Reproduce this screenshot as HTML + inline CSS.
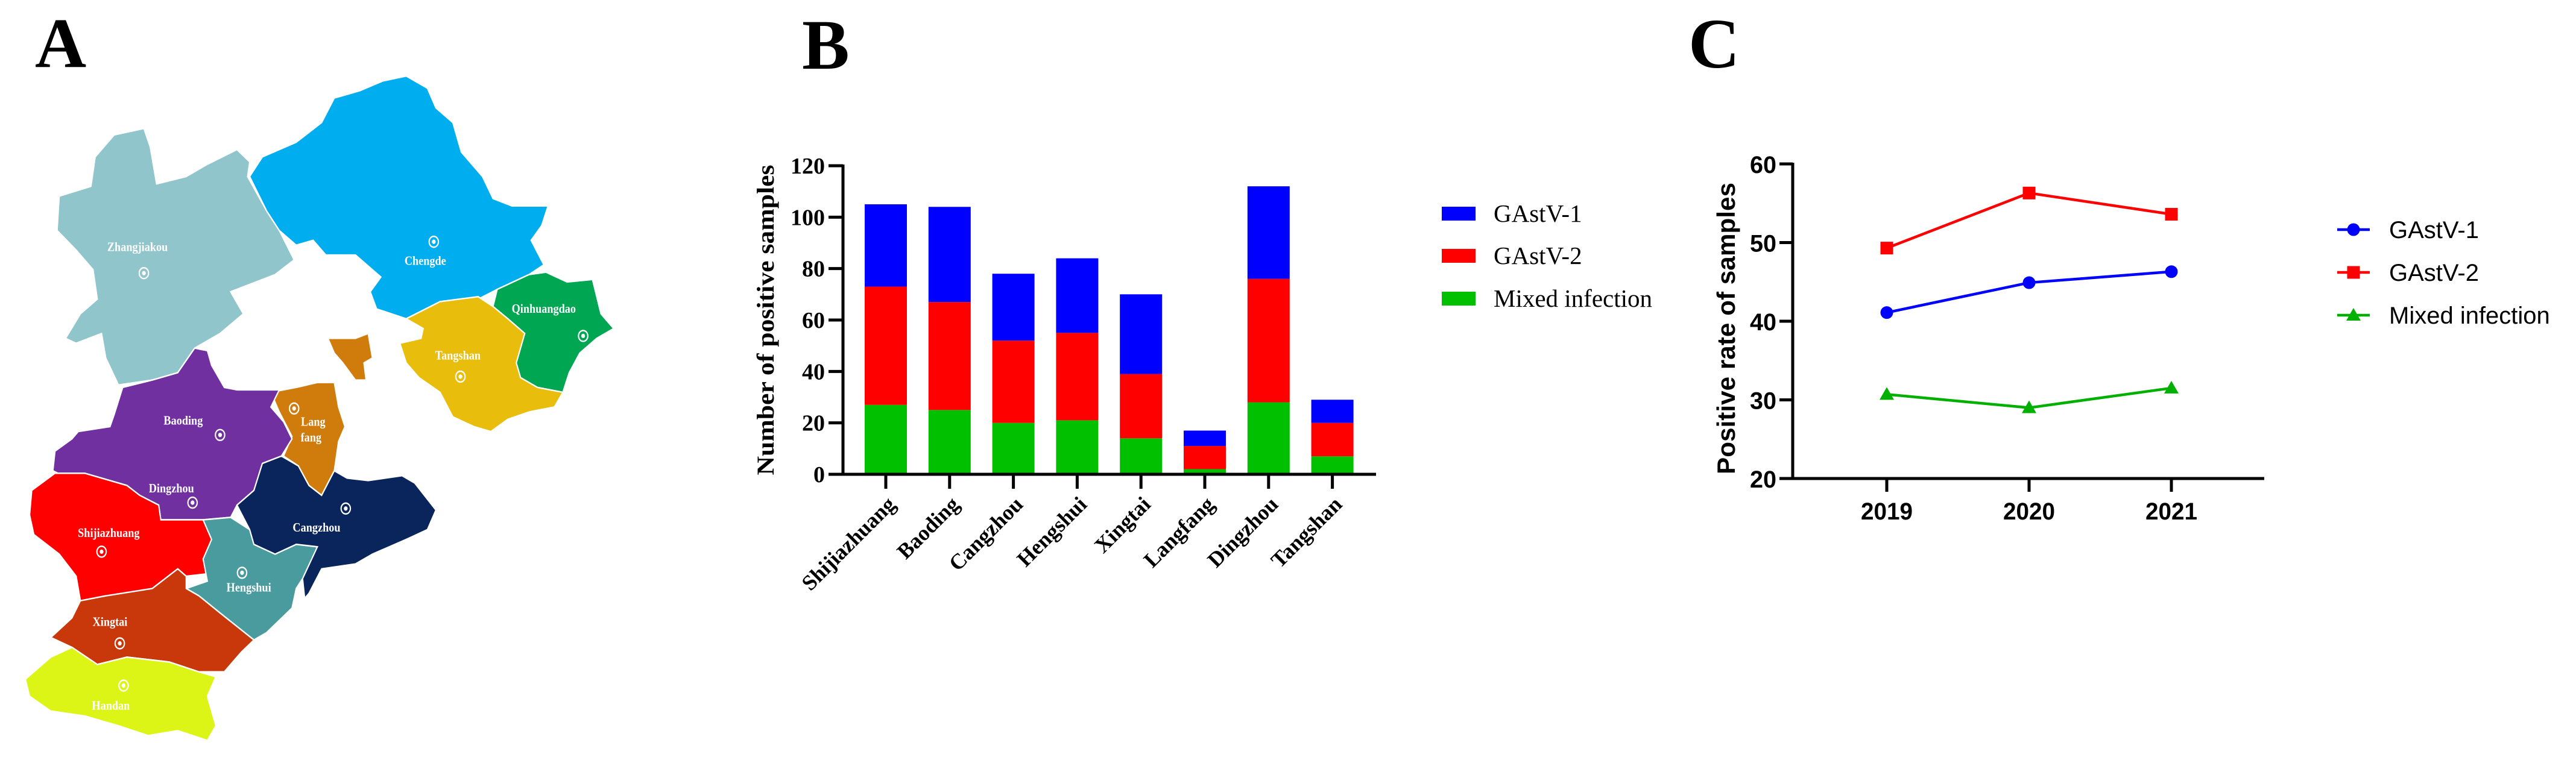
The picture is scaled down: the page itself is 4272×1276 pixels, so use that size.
<!DOCTYPE html>
<html><head><meta charset="utf-8"><style>
html,body{margin:0;padding:0;background:#fff;}
svg{display:block;}
</style></head><body>
<svg id="fig" width="4272" height="1276" viewBox="0 0 4272 1276" xmlns="http://www.w3.org/2000/svg">
<rect width="4272" height="1276" fill="#fff"/>
<text x="58" y="111" font-family="Liberation Serif, serif" font-weight="bold" font-size="118">A</text>
<text x="1330" y="114" font-family="Liberation Serif, serif" font-weight="bold" font-size="118">B</text>
<text x="2800" y="112" font-family="Liberation Serif, serif" font-weight="bold" font-size="118">C</text>

<g id="map" transform="scale(0.7018,0.8137)" stroke="#fff" stroke-width="3">
<polygon fill="#8fc5cb" points="140,400 215,380 225,320 270,275 340,262 355,300 370,375 440,360 490,335 560,305 590,330 585,360 630,430 660,470 695,530 650,560 590,580 545,595 575,640 520,680 460,710 420,760 360,775 280,785 250,730 240,680 180,700 155,690 190,640 230,610 220,550 180,510 135,470"/>
<polygon fill="#00aeef" points="590,360 620,320 700,290 760,250 790,200 850,185 905,165 960,155 1010,180 1030,220 1070,250 1090,310 1140,360 1165,405 1210,420 1295,420 1280,460 1255,490 1285,540 1250,560 1175,590 1130,610 1040,615 960,650 890,630 875,595 900,565 840,520 770,520 740,490 700,500 660,470 630,430"/>
<polygon fill="#00a651" points="1175,590 1250,560 1290,555 1340,575 1400,570 1420,640 1450,670 1410,690 1370,720 1345,760 1330,800 1270,790 1230,770 1220,740 1240,680 1200,650 1165,625"/>
<polygon fill="#e8bd0c" points="960,650 1040,615 1130,605 1165,625 1200,650 1240,680 1220,740 1230,770 1270,790 1330,800 1310,830 1250,840 1200,855 1160,880 1120,870 1070,850 1040,800 990,770 960,740 945,700 995,690 1000,670"/>
<polygon fill="#d07c0c" points="775,690 840,690 870,680 880,730 860,740 865,775 840,775 810,740 790,720"/>
<polygon fill="#d07c0c" points="640,800 700,790 750,780 790,780 800,830 815,870 800,900 790,960 760,1010 730,990 705,950 670,930 690,890 660,840"/>
<polygon fill="#7030a0" points="290,790 360,775 420,760 460,710 490,715 500,745 530,790 560,795 660,795 640,830 670,860 690,895 665,930 620,945 600,1000 560,1030 545,1055 480,1060 380,1060 375,1030 330,1010 300,990 200,965 160,975 125,960 130,920 170,895 185,880 260,870 270,845"/>
<polygon fill="#ff0000" points="75,1000 130,965 200,965 300,990 330,1010 375,1030 380,1060 480,1060 500,1100 480,1140 490,1170 440,1175 420,1160 360,1200 290,1215 250,1215 190,1225 180,1175 140,1130 80,1090 70,1050"/>
<polygon fill="#4a9b9e" points="480,1060 545,1055 590,1080 600,1110 650,1130 700,1110 750,1115 730,1160 700,1200 690,1240 630,1290 600,1305 520,1250 470,1215 440,1200 490,1185 480,1140 500,1100"/>
<polygon fill="#0a245c" points="560,1030 600,1000 620,945 665,930 705,950 730,990 760,1010 790,960 820,975 870,980 950,970 980,985 1030,1040 1010,1080 960,1100 880,1130 840,1150 760,1160 730,1210 720,1220 715,1180 750,1115 700,1110 650,1130 600,1110 590,1080"/>
<polygon fill="#c8380a" points="190,1225 250,1215 360,1200 420,1160 440,1175 440,1200 470,1215 520,1250 600,1305 570,1330 530,1370 470,1370 400,1350 300,1340 230,1355 170,1320 120,1300 170,1260"/>
<polygon fill="#dcf517" points="60,1385 120,1340 170,1320 230,1355 300,1340 400,1350 470,1370 510,1380 490,1420 510,1480 490,1510 420,1490 350,1500 280,1480 200,1460 120,1450 70,1420"/>
<g stroke="none" fill="#fff" font-family="Liberation Serif, serif" font-weight="bold" font-size="26" text-anchor="middle">
<text x="325" y="512">Zhangjiakou</text>
<text x="1005" y="540">Chengde</text>
<text x="1285" y="638">Qinhuangdao</text>
<text x="1082" y="733">Tangshan</text>
<text x="740" y="868">Lang</text>
<text x="735" y="900">fang</text>
<text x="433" y="866">Baoding</text>
<text x="405" y="1004">Dingzhou</text>
<text x="257" y="1095">Shijiazhuang</text>
<text x="748" y="1084">Cangzhou</text>
<text x="588" y="1206">Hengshui</text>
<text x="260" y="1276">Xingtai</text>
<text x="262" y="1447">Handan</text>
</g>
<g id="cities" stroke="none"></g>
</g>

<g id="chartB"></g>
<g id="chartC"></g>
</svg>
<script>
const NS='http://www.w3.org/2000/svg';
function mk(parent,tag,attrs){const e=document.createElementNS(NS,tag);for(const k in attrs)e.setAttribute(k,attrs[k]);parent.appendChild(e);return e;}

// map city markers
const cityPts=[[340,557],[1025,493],[1378,685],[1088,768],[695,833],[520,887],[455,1025],[240,1125],[817,1037],[572,1168],[283,1312],[292,1398]];
const cities=document.getElementById('cities');
cityPts.forEach(p=>{
  const c=mk(cities,'circle',{cx:p[0],cy:p[1],r:11,fill:'none',stroke:'#fff','stroke-width':3});
  
  
  const d=mk(cities,'circle',{cx:p[0],cy:p[1],r:4.5,fill:'#fff'});
  
  
});

// ---------- Panel B data ----------
const bCategories=['Shijiazhuang','Baoding','Cangzhou','Hengshui','Xingtai','Langfang','Dingzhou','Tangshan'];
const bMixed=[27,25,20,21,14,2,28,7];
const bGAstV2=[46,42,32,34,25,9,48,13];
const bGAstV1=[32,37,26,29,31,6,36,9];
const bTicks=[0,20,40,60,80,100,120];
const bSeriesNames=['GAstV-1','GAstV-2','Mixed infection'];

(function(){
  const g=document.getElementById('chartB');
  const x0=1398, y0=787, yTop=275, yMax=120, xEnd=2282;
  const first=1469, step=105.8, bw=70;
  const Y=v=>y0-(v/yMax)*(y0-yTop);
  const X=i=>first+i*step;
  bCategories.forEach((c,i)=>{
    const stacks=[[bMixed[i],'#00c000','bar-mixed-'+c.toLowerCase()],[bGAstV2[i],'#ff0000','bar-gastv2-'+c.toLowerCase()],[bGAstV1[i],'#0000ff','bar-gastv1-'+c.toLowerCase()]];
    let base=0;
    stacks.forEach(s=>{
      const r=mk(g,'rect',{x:X(i)-bw/2,y:Y(base+s[0]),width:bw,height:Y(base)-Y(base+s[0]),fill:s[1]});
      
      
      base+=s[0];
    });
    const t=mk(g,'line',{x1:X(i),y1:y0,x2:X(i),y2:y0+24,stroke:'#000','stroke-width':5});
    
    
    const lx=X(i)+18, ly=y0+52;
    const l=mk(g,'text',{x:lx,y:ly,'text-anchor':'end','font-family':'Liberation Serif, serif','font-weight':'bold','font-size':36,transform:`rotate(-45 ${lx} ${ly})`});
    l.textContent=c;
    
    
  });
  bTicks.forEach(v=>{
    const t=mk(g,'line',{x1:x0-24,y1:Y(v),x2:x0,y2:Y(v),stroke:'#000','stroke-width':5});
    
    
    const l=mk(g,'text',{x:x0-30,y:Y(v)+13,'text-anchor':'end','font-family':'Liberation Serif, serif','font-weight':'bold','font-size':38});
    l.textContent=v;
    
    
  });
  const ya=mk(g,'line',{x1:x0,y1:yTop-2,x2:x0,y2:y0+2.5,stroke:'#000','stroke-width':5});
  
  
  const xa=mk(g,'line',{x1:x0-2.5,y1:y0,x2:xEnd,y2:y0,stroke:'#000','stroke-width':5});
  
  
  const yt=mk(g,'text',{x:0,y:0,'text-anchor':'middle','font-family':'Liberation Serif, serif','font-weight':'bold','font-size':40,textLength:515,lengthAdjust:'spacingAndGlyphs',transform:`translate(1283 ${(yTop+y0)/2}) rotate(-90)`});
  yt.textContent='Number of positive samples';
  
  
  const cols=['#0000ff','#ff0000','#00c000'];
  const ly=[354,424,495];
  bSeriesNames.forEach((n,i)=>{
    const r=mk(g,'rect',{x:2391,y:ly[i]-11,width:56,height:23,fill:cols[i]});
    
    
    const t=mk(g,'text',{x:2477,y:ly[i]+14,'font-family':'Liberation Serif, serif','font-size':41});
    t.textContent=n;
    
    
  });
})();

// ---------- Panel C data ----------
const cYears=['2019','2020','2021'];
const cGAstV1=[41.1,44.9,46.3];
const cGAstV2=[49.3,56.3,53.6];
const cMixed=[30.7,29.0,31.5];
const cTicks=[20,30,40,50,60];

(function(){
  const g=document.getElementById('chartC');
  const x0=2973, y0=794, yTop=272, xEnd=3755, vMin=20, vMax=60;
  const first=3129, step=236;
  const Y=v=>y0-(v-vMin)/(vMax-vMin)*(y0-yTop);
  const X=i=>first+i*step;
  cTicks.forEach(v=>{
    const t=mk(g,'line',{x1:x0-22,y1:Y(v),x2:x0,y2:Y(v),stroke:'#000','stroke-width':5});
    
    
    const l=mk(g,'text',{x:x0-27,y:Y(v)+15,'text-anchor':'end','font-family':'Liberation Sans, sans-serif','font-weight':'bold','font-size':40,textLength:44,lengthAdjust:'spacingAndGlyphs'});
    l.textContent=v;
    
    
  });
  cYears.forEach((yr,i)=>{
    const t=mk(g,'line',{x1:X(i),y1:y0,x2:X(i),y2:y0+22,stroke:'#000','stroke-width':5});
    
    
    const l=mk(g,'text',{x:X(i),y:y0+68,'text-anchor':'middle','font-family':'Liberation Sans, sans-serif','font-weight':'bold','font-size':40,textLength:86,lengthAdjust:'spacingAndGlyphs'});
    l.textContent=yr;
    
    
  });
  const ya=mk(g,'line',{x1:x0,y1:yTop-2,x2:x0,y2:y0+2.5,stroke:'#000','stroke-width':5});
  
  
  const xa=mk(g,'line',{x1:x0-2.5,y1:y0,x2:xEnd,y2:y0,stroke:'#000','stroke-width':5});
  
  
  const yt=mk(g,'text',{x:0,y:0,'text-anchor':'middle','font-family':'Liberation Sans, sans-serif','font-weight':'bold','font-size':42,textLength:484,lengthAdjust:'spacingAndGlyphs',transform:`translate(2877 ${(yTop+y0)/2+12}) rotate(-90)`});
  yt.textContent='Positive rate of samples';
  
  

  function marker(parent,type,cx,cy,col,name){
    let m;
    if(type==='circle') m=mk(parent,'circle',{cx:cx,cy:cy,r:10.5,fill:col});
    else if(type==='square') m=mk(parent,'rect',{x:cx-10.5,y:cy-10.5,width:21,height:21,fill:col});
    else m=mk(parent,'polygon',{points:`${cx},${cy-12} ${cx-12},${cy+9} ${cx+12},${cy+9}`,fill:col});
    
    
  }
  const series=[['GAstV-1',cGAstV1,'#0000ff','circle'],['GAstV-2',cGAstV2,'#ff0000','square'],['Mixed infection',cMixed,'#00b000','triangle']];
  series.forEach(s=>{
    const pts=s[1].map((v,i)=>X(i)+','+Y(v)).join(' ');
    const pl=mk(g,'polyline',{points:pts,fill:'none',stroke:s[2],'stroke-width':4.5});
    
    
    s[1].forEach((v,i)=>marker(g,s[3],X(i),Y(v),s[2],'point-'+s[0].toLowerCase().replace(/\s+/g,'-')));
  });
  const ly=[381,452,523];
  series.forEach((s,i)=>{
    const l=mk(g,'line',{x1:3876,y1:ly[i],x2:3930,y2:ly[i],stroke:s[2],'stroke-width':4.5});
    
    
    marker(g,s[3],3903,ly[i],s[2],'legend-marker');
    const t=mk(g,'text',{x:3962,y:ly[i]+14,'font-family':'Liberation Sans, sans-serif','font-size':40});
    t.textContent=s[0];
    
    
  });
})();
</script>
</body></html>
